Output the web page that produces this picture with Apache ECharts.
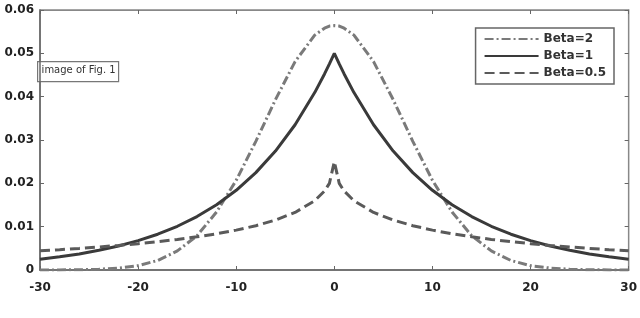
<!DOCTYPE html>
<html><head><meta charset="utf-8">
<script src="https://cdn.jsdelivr.net/npm/echarts@6/dist/echarts.min.js"></script>
<style>html,body{margin:0;padding:0;background:#fff}#c{width:640px;height:318px}</style>
</head><body><div id="c"></div>
<script>
var xs = [-30,-28,-26,-24,-22,-20,-18,-16,-14,-12,-10,-8,-6,-4,-2,-1,-0.5,0,0.5,1,2,4,6,8,10,12,14,16,18,20,22,24,26,28,30];
var beta2 = [0.00001,0.00002,0.00006,0.00018,0.00045,0.0010,0.0022,0.0044,0.0079,0.0134,0.0207,0.0297,0.0393,0.0481,0.0542,0.0558,0.0563,0.0564,0.0563,0.0558,0.0542,0.0481,0.0393,0.0297,0.0207,0.0134,0.0079,0.0044,0.0022,0.0010,0.00045,0.00018,0.00006,0.00002,0.00001];
var beta1 = [0.00249,0.00304,0.00371,0.00454,0.00554,0.00677,0.00826,0.01009,0.01233,0.01506,0.01839,0.02247,0.02744,0.03352,0.04094,0.04524,0.04756,0.05,0.04756,0.04524,0.04094,0.03352,0.02744,0.02247,0.01839,0.01506,0.01233,0.01009,0.00826,0.00677,0.00554,0.00454,0.00371,0.00304,0.00249];
var beta05 = [0.00442,0.00469,0.00498,0.00531,0.00567,0.00608,0.00654,0.00706,0.00766,0.00836,0.00920,0.01022,0.01152,0.01328,0.01599,0.01822,0.0200,0.025,0.0200,0.01822,0.01599,0.01328,0.01152,0.01022,0.00920,0.00836,0.00766,0.00706,0.00654,0.00608,0.00567,0.00531,0.00498,0.00469,0.00442];
var names = ['Beta=2','Beta=1','Beta=0.5'];
var xTicks = [-30,-20,-10,0,10,20,30];
var yTicks = [0,0.01,0.02,0.03,0.04,0.05,0.06];

function pairs(v){ return xs.map(function(x,i){return [x,v[i]];}); }
var font = {fontFamily:'DejaVu Sans', fontWeight:'bold', fontSize:12, color:'#222'};
var chart = echarts.init(document.getElementById('c'));
chart.setOption({
  animation:false,
  grid:{left:40,right:10,top:10,bottom:48,show:true,borderColor:'#888',borderWidth:1.5},
  legend:{
    data:names, orient:'vertical', right:26, top:28, itemWidth:54, itemHeight:12, itemGap:5,
    padding:[5,8,5,8], borderColor:'#666', borderWidth:1.5, backgroundColor:'#fff',
    itemStyle:{color:'rgba(0,0,0,0)',borderWidth:0,opacity:0},
    textStyle:{fontFamily:'DejaVu Sans',fontWeight:'bold',fontSize:12,color:'#333'}
  },
  xAxis:[{type:'value',min:-30,max:30,interval:10,
    axisLine:{onZero:false,lineStyle:{color:'#666',width:1.5}},
    axisTick:{inside:true,length:4,lineStyle:{color:'#666'}},
    axisLabel:Object.assign({margin:12,formatter:function(v){return xTicks.indexOf(v)>=0?String(v):'';}},font),
    splitLine:{show:false}},
    {type:'value',position:'top',min:-30,max:30,interval:10,
    axisLine:{onZero:false,lineStyle:{color:'#888'}},axisTick:{inside:true,length:4,lineStyle:{color:'#666'}},
    axisLabel:{show:false},splitLine:{show:false}}],
  yAxis:[{type:'value',min:0,max:0.06,interval:0.01,
    axisLine:{show:true,onZero:false,lineStyle:{color:'#666',width:1.5}},
    axisTick:{show:true,inside:true,length:4,lineStyle:{color:'#666'}},
    axisLabel:Object.assign({margin:6,formatter:function(v){return v===0?'0':v.toFixed(2);}},font),
    splitLine:{show:false}},
    {type:'value',position:'right',min:0,max:0.06,interval:0.01,
    axisLine:{show:true,onZero:false,lineStyle:{color:'#888'}},axisTick:{show:true,inside:true,length:4,lineStyle:{color:'#666'}},
    axisLabel:{show:false},splitLine:{show:false}}],
  series:[
    {name:names[0],type:'line',symbol:'none',data:pairs(beta2),smooth:false,
     lineStyle:{color:'#7a7a7a',width:3,type:[9,3,2,3]},itemStyle:{color:'#7a7a7a'}},
    {name:names[1],type:'line',symbol:'none',data:pairs(beta1),
     lineStyle:{color:'#3a3a3a',width:3,type:'solid'},itemStyle:{color:'#3a3a3a'}},
    {name:names[2],type:'line',symbol:'none',data:pairs(beta05),
     lineStyle:{color:'#5a5a5a',width:3,type:[10,5]},itemStyle:{color:'#5a5a5a'}}
  ],
  graphic:[{type:'group',left:37,top:61,children:[
    {type:'rect',shape:{x:0,y:0,width:81,height:20},style:{fill:'#fff',stroke:'#777',lineWidth:1.2}},
    {type:'text',x:4,y:4,style:{text:'image of Fig. 1',font:'10px "DejaVu Sans"',fill:'#333'}}
  ]}]
});
</script></body></html>
